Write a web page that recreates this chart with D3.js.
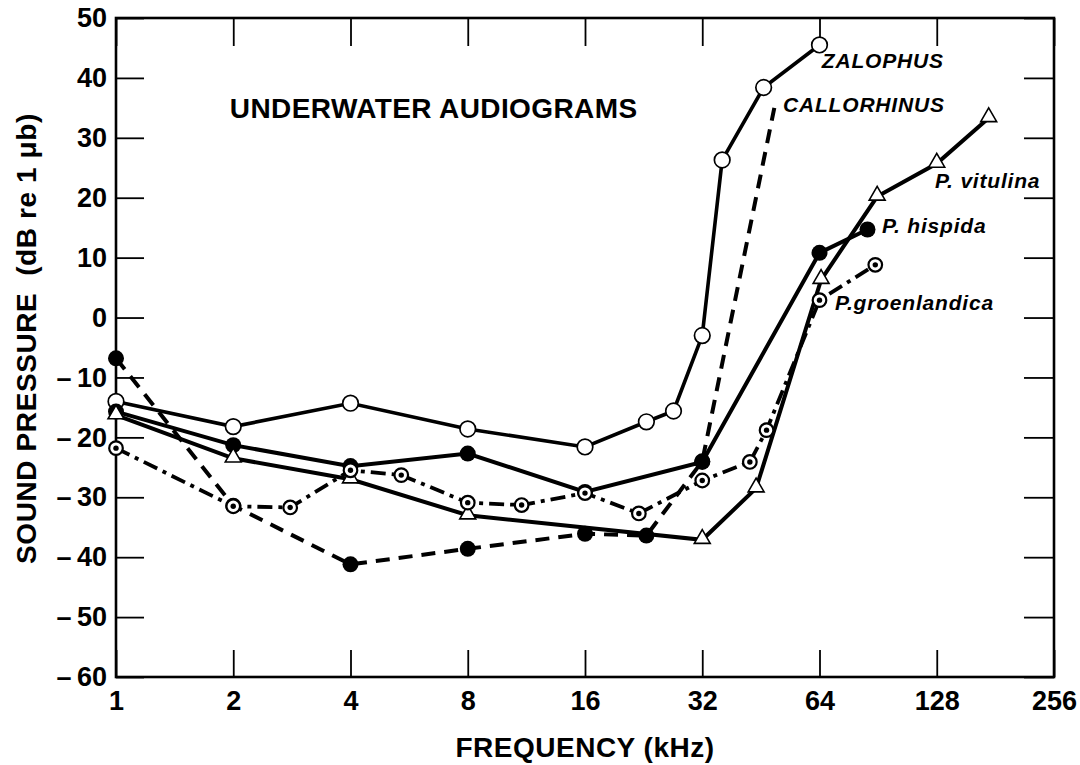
<!DOCTYPE html>
<html>
<head>
<meta charset="utf-8">
<script src="https://cdn.jsdelivr.net/npm/d3@7"></script>
<style>
  body { margin: 0; background: #fff; }
  svg text { font-family: "Liberation Sans", Arial, sans-serif; font-weight: bold; fill: #000; }
</style>
</head>
<body>
<div id="chart"></div>
<script>
// tick labels
let xTicks = [1, 2, 4, 8, 16, 32, 64, 128, 256];
let yTicks = [50, 40, 30, 20, 10, 0, -10, -20, -30, -40, -50, -60];

// series (frequency kHz, threshold dB)
let zalophusFreq = [1, 2, 4, 8, 16, 23, 27, 32, 36, 46, 64];
let zalophusDb   = [-14, -18.2, -14.3, -18.6, -21.6, -17.4, -15.6, -3, 26.3, 38.4, 45.5];

let callorhinusFreq = [1, 2, 4, 8, 16, 23, 32, 49];
let callorhinusDb   = [-6.8, -31.4, -41.2, -38.6, -36.1, -36.4, -24, 35];

let hispidaFreq = [1, 2, 4, 8, 16, 32, 64, 85];
let hispidaDb   = [-15.7, -21.3, -24.8, -22.7, -29.1, -24.1, 10.8, 14.7];

let vitulinaFreq = [1, 2, 4, 8, 32, 44, 64.6, 90, 128, 174];
let vitulinaDb   = [-16.3, -23.5, -27, -33, -37.1, -28.5, 6.3, 20.2, 25.7, 33.3];

let groenFreq = [1, 2, 2.8, 4, 5.4, 8, 11, 16, 22, 32, 42.4, 46.8, 64, 89];
let groenDb   = [-21.8, -31.5, -31.7, -25.5, -26.3, -30.9, -31.3, -29.3, -32.7, -27.2, -24.1, -18.8, 2.9, 8.8];

// set the dimensions and margins of the graph
let margin = {top: 18, right: 26, bottom: 88, left: 116},
    width = 1080 - margin.left - margin.right,
    height = 765 - margin.top - margin.bottom;

let svg = d3.select("#chart")
  .append("svg")
    .attr("width", 1080)
    .attr("height", 765)
  .append("g")
    .attr("transform", "translate(" + margin.left + "," + margin.top + ")");

let x = d3.scaleLog().base(2).domain([1, 256]).range([0, width]);
let y = d3.scaleLinear().domain([-60, 50]).range([height, 0]);

// axes, ticks pointing inwards on all four sides
let fmtY = function(d) { return d < 0 ? "\u2013\u2009" + Math.abs(d) : d; };

let gx = svg.append("g")
  .attr("transform", "translate(0," + height + ")")
  .call(d3.axisBottom(x).tickValues(xTicks).tickSizeInner(-27).tickSizeOuter(0)
    .tickPadding(14).tickFormat(d3.format("d")));
let gy = svg.append("g")
  .call(d3.axisLeft(y).tickValues(yTicks).tickSizeInner(-28).tickSizeOuter(0)
    .tickPadding(9).tickFormat(fmtY));
let gt = svg.append("g")
  .call(d3.axisTop(x).tickValues(xTicks).tickSizeInner(-28).tickSizeOuter(0).tickFormat(""));
let gr = svg.append("g")
  .attr("transform", "translate(" + width + ",0)")
  .call(d3.axisRight(y).tickValues(yTicks).tickSizeInner(-30).tickSizeOuter(0).tickFormat(""));

[gx, gy, gt, gr].forEach(function(g) {
  g.select(".domain").remove();
  g.selectAll(".tick line").attr("stroke", "#000").attr("stroke-width", 1.8);
});
gx.selectAll("text").style("font-size", "27px");
gy.selectAll("text").style("font-size", "27px");

// frame
svg.append("rect")
  .attr("width", width).attr("height", height)
  .attr("fill", "none").attr("stroke", "#000").attr("stroke-width", 2.6);

// series table built from the arrays
function pts(fs, ds) { return fs.map(function(f, i) { return {f: f, v: ds[i]}; }); }

let series = [
  {name: "zalophus", data: pts(zalophusFreq, zalophusDb), dash: null, w: 3.6, mark: "open"},
  {name: "callorhinus", data: pts(callorhinusFreq, callorhinusDb), dash: "14,9", w: 4, mark: "filled", openEnd: true},
  {name: "hispida", data: pts(hispidaFreq, hispidaDb), dash: null, w: 4, mark: "filled"},
  {name: "vitulina", data: pts(vitulinaFreq, vitulinaDb), dash: null, w: 4, mark: "tri"},
  {name: "groenlandica", data: pts(groenFreq, groenDb), dash: "15,6,4,6", w: 3.8, mark: "dot"}
];

let line = d3.line()
  .x(function(d) { return x(d.f); })
  .y(function(d) { return y(d.v); });

svg.append("g").selectAll("path")
  .data(series)
  .enter().append("path")
    .attr("d", function(s) { return line(s.data); })
    .attr("fill", "none")
    .attr("stroke", "#000")
    .attr("stroke-width", function(s) { return s.w; })
    .attr("stroke-dasharray", function(s) { return s.dash; });

let tri = d3.symbol().type(d3.symbolTriangle).size(110);

series.forEach(function(s) {
  let data = s.openEnd ? s.data.slice(0, -1) : s.data;
  let g = svg.append("g").attr("class", "marks-" + s.name);
  let m = g.selectAll("g").data(data).enter().append("g")
    .attr("transform", function(d) { return "translate(" + x(d.f) + "," + y(d.v) + ")"; });
  if (s.mark === "open") {
    m.append("circle").attr("r", 7.8).attr("fill", "#fff").attr("stroke", "#000").attr("stroke-width", 1.7);
  } else if (s.mark === "filled") {
    m.append("circle").attr("r", 8).attr("fill", "#000");
  } else if (s.mark === "tri") {
    m.append("path").attr("d", tri).attr("transform", "translate(0,-1)")
      .attr("fill", "#fff").attr("stroke", "#000").attr("stroke-width", 1.6);
  } else if (s.mark === "dot") {
    m.append("circle").attr("r", 6.8).attr("fill", "#fff").attr("stroke", "#000").attr("stroke-width", 2.2);
    m.append("circle").attr("r", 2.7).attr("fill", "#000");
  }
});

// annotations
let labels = [
  {t: "ZALOPHUS", f: 64.9, v: 41.6},
  {t: "CALLORHINUS", f: 51.6, v: 34.3},
  {t: "P. vitulina", f: 126.7, v: 21.6},
  {t: "P. hispida", f: 92.6, v: 14.1},
  {t: "P.groenlandica", f: 70.1, v: 1.2}
];
svg.append("g").selectAll("text")
  .data(labels)
  .enter().append("text")
    .attr("x", function(d) { return x(d.f); })
    .attr("y", function(d) { return y(d.v); })
    .style("font-size", "21px")
    .style("font-style", "italic")
    .style("letter-spacing", "0.8px")
    .text(function(d) { return d.t; });

svg.append("text")
  .attr("x", x(1.96)).attr("y", y(33.3))
  .style("font-size", "28px")
  .style("letter-spacing", "0.4px")
  .text("UNDERWATER AUDIOGRAMS");

// axis titles
svg.append("text")
  .attr("x", x(16)).attr("y", height + 80)
  .attr("text-anchor", "middle")
  .style("font-size", "28px")
  .style("letter-spacing", "0.5px")
  .text("FREQUENCY (kHz)");

svg.append("text")
  .attr("transform", "translate(" + (-90) + "," + (y(-3.5)) + ") rotate(-90)")
  .attr("text-anchor", "middle")
  .attr("dy", "0.36em")
  .style("font-size", "28px")
  .style("letter-spacing", "0.6px")
  .text("SOUND PRESSURE\u00a0\u00a0(dB re 1 \u03bcb)");
</script>
</body>
</html>
